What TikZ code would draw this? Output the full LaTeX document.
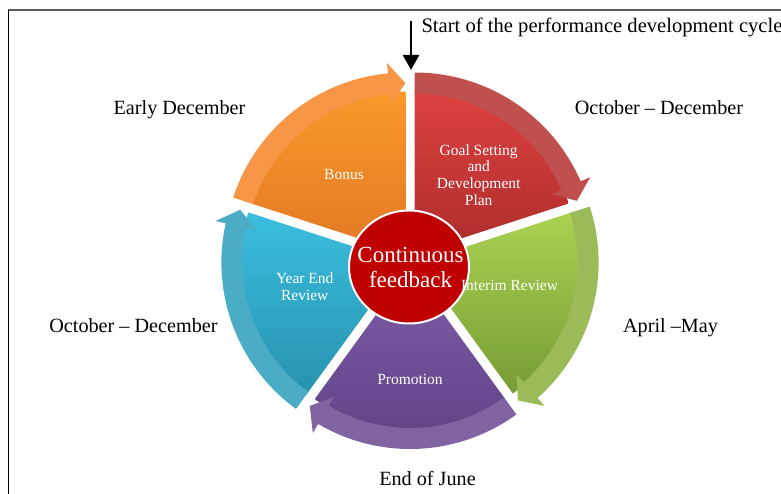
\documentclass[tikz,border=0pt]{standalone}
\usepackage{fontspec}
\setmainfont{Liberation Serif}
\usepackage{tikz}
\usetikzlibrary{shapes.geometric,arrows.meta,positioning,calc}
\definecolor{redband}{RGB}{192,80,77}
\definecolor{redtop}{RGB}{220,66,64}
\definecolor{redbottom}{RGB}{172,44,44}
\definecolor{orangeband}{RGB}{247,150,70}
\definecolor{orangetop}{RGB}{250,152,42}
\definecolor{orangebottom}{RGB}{226,120,36}
\definecolor{greenband}{RGB}{155,187,89}
\definecolor{greentop}{RGB}{170,210,82}
\definecolor{greenbottom}{RGB}{118,156,52}
\definecolor{purpleband}{RGB}{128,100,162}
\definecolor{purpletop}{RGB}{126,92,170}
\definecolor{purplebottom}{RGB}{96,68,134}
\definecolor{blueband}{RGB}{75,172,198}
\definecolor{bluetop}{RGB}{58,190,222}
\definecolor{bluebottom}{RGB}{40,146,176}
\definecolor{feedbackred}{RGB}{192,0,0}
\definecolor{framegray}{RGB}{90,90,90}

% one slice of the wheel: mid angle, body top colour, body bottom colour, band colour
\newcommand{\cyclepart}[4]{%
  \begin{scope}[shift={(#1:8pt)}]
    \shade[top color=#2, bottom color=#3]
      (0,0) -- ({#1+36}:162pt) arc[start angle={#1+36}, end angle={#1-36}, radius=162pt] -- cycle;
    \fill[#4]
      ({#1+36}:160pt) arc[start angle={#1+36}, end angle={#1-30.5}, radius=160pt]
      -- ({#1-30.5}:149.5pt) -- ({#1-36}:170.5pt) -- ({#1-30.5}:191.5pt)
      -- ({#1-30.5}:181pt) arc[start angle={#1-30.5}, end angle={#1+36}, radius=181pt] -- cycle;
  \end{scope}}

\begin{document}
\begin{tikzpicture}[
    x=1pt, y=1pt,
    monthlabel/.style={font=\fontsize{20.2}{24}\selectfont, anchor=base},
    stagelabel/.style={font=\fontsize{15.5}{16.7}\selectfont, text=white, align=center},
    startarrow/.style={-{Triangle[length=15pt,width=16pt]}, line width=2.5pt}
]
    \useasboundingbox (0,0) rectangle (781,494);

    % Frame
    \draw[framegray, line width=2pt] (8,484) -- (781,484);
    \draw[line width=1pt] (8,0) -- (8,484);

    % Wheel
    \coordinate (hub) at (410,234);
    \begin{scope}[shift={(hub)}]
        \cyclepart{54}{redtop}{redbottom}{redband}
        \cyclepart{-18}{greentop}{greenbottom}{greenband}
        \cyclepart{-90}{purpletop}{purplebottom}{purpleband}
        \cyclepart{-162}{bluetop}{bluebottom}{blueband}
        \cyclepart{126}{orangetop}{orangebottom}{orangeband}
    \end{scope}

    % Centre
    \node[ellipse, fill=feedbackred, draw=white, line width=2pt, minimum width=120pt, minimum height=113pt,
          inner sep=0pt] (feedback) at (409,227) {};
    \node[align=center, text=white, font=\fontsize{23}{25}\selectfont, inner sep=0pt]
          (feedbacktext) at (410.5,226) {Continuous\\feedback};

    % Stages
    \node[stagelabel, anchor=base] (bonus) at (344,314) {Bonus};
    \node[stagelabel] (goal) at (478.7,319) {Goal Setting\\and\\Development\\Plan};
    \node[stagelabel, anchor=base] (interim) at (509.5,203) {Interim Review};
    \node[stagelabel, anchor=base] (promotion) at (410,109) {Promotion};
    \node[stagelabel] (yearend) at (304.7,207.6) {Year End\\Review};

    % Months
    \node[monthlabel] (earlydec) at (179.5,379) {Early December};
    \node[monthlabel] (octdecright) at (659,379) {October -- December};
    \node[monthlabel] (aprmay) at (670.5,161) {April --May};
    \node[monthlabel] (endjune) at (427.5,8) {End of June};
    \node[monthlabel] (octdecleft) at (133.5,161) {October -- December};

    % Start of cycle
    \node[monthlabel, anchor=base west, font=\fontsize{20.6}{24}\selectfont] (startnote) at (418,461)
          {Start of the performance development cycle};
    \coordinate (cuetop) at (411,473);
    \coordinate (cuetip) at (411,424);
    \draw[startarrow] (cuetop) -- (cuetip);
\end{tikzpicture}
\end{document}
